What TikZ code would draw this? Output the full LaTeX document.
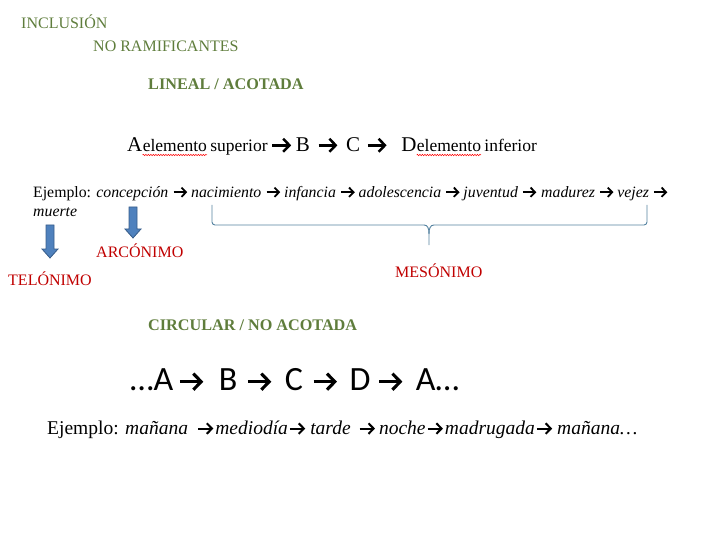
\documentclass[tikz,border=0pt]{standalone}
\usepackage{fontspec}
\setmainfont{Liberation Serif}
\newfontfamily\calibrifont{Carlito}
\usetikzlibrary{positioning,arrows.meta,decorations.pathmorphing}

\definecolor{olivegreen}{RGB}{95,125,60}
\definecolor{termred}{RGB}{192,0,0}
\definecolor{blockblue}{RGB}{79,129,189}
\definecolor{blockedge}{RGB}{56,93,138}
\definecolor{bracegray}{RGB}{84,130,160}

\newcommand{\fs}[1]{\fontsize{#1}{#1}\selectfont}
% thick arrow with open head, sized by the font size given
\newcommand{\ra}[1]{{\fs{#1}\tikz[baseline={(0pt,-0.32em)}]
  \draw[line width=0.12em, -{Straight Barb[length=0.3em, width=0.62em]}] (0pt,0pt) -- (0.9em,0pt);}}

\tikzset{
  heading/.style={anchor=base west, inner sep=0pt, text=olivegreen, font=\fs{16}},
  term/.style={anchor=base west, inner sep=0pt, text=termred, font=\fs{16}},
  example line/.style={anchor=base west, inner sep=0pt, font=\fs{#1}},
  big letter/.style={inner sep=0pt, font=\fs{21}},
  small word/.style={inner sep=0pt, font=\fs{17.5}},
  wide arrow/.style={inner sep=0pt},
  block arrow/.style={draw=blockedge, fill=blockblue, line width=0.8pt},
  pics/block down/.style={code={
    \filldraw[block arrow] (-4,0) -- (4,0) -- (4,#1-9) -- (8,#1-9) -- (0,#1)
      -- (-8,#1-9) -- (-4,#1-9) -- cycle;
  }},
  spell mark/.style={
    draw=red, line width=0.5pt, decorate,
    decoration={snake, amplitude=0.7pt, segment length=2.5pt},
  },
  brace line/.style={draw=bracegray, line width=0.9pt, rounded corners=3pt},
}

\begin{document}
\begin{tikzpicture}[x=1pt, y=-1pt]
  \useasboundingbox (0,0) rectangle (720,540);

  \node [heading] (incl) at (21,29) {INCLUSIÓN};
  \node [heading] (noram) at (93,52) {NO RAMIFICANTES};
  \node [heading, font=\fs{16.2}\bfseries] (lineal) at (148,90) {LINEAL / ACOTADA};

  % linear chain
  \node [big letter, anchor=base west] (a1) at (127,152) {A};
  \node [small word, base right=0pt of a1] (el1) {elemento};
  \node [small word, base right=3pt of el1] (sup) {superior};
  \node [wide arrow, base right=3pt of sup] (r1) {\ra{21}};
  \node [big letter, base right=3pt of r1] (b1) {B};
  \node [wide arrow, base right=7pt of b1] (r2) {\ra{21}};
  \node [big letter, base right=7pt of r2] (c1) {C};
  \node [wide arrow, base right=6pt of c1] (r3) {\ra{21}};
  \node [big letter, base right=13pt of r3] (d1) {D};
  \node [small word, base right=0pt of d1] (el2) {elemento};
  \node [small word, base right=3pt of el2] (inf) {inferior};
  \draw [spell mark] ([yshift=-3pt]el1.base west) -- ([yshift=-3pt]el1.base east);
  \draw [spell mark] ([yshift=-3pt]el2.base west) -- ([yshift=-3pt]el2.base east);

  \node [example line=15.8] (ej1) at (33,197)
    {Ejemplo: \textit{concepción}\hspace{4.5pt}\ra{15}\hspace{3pt}\textit{nacimiento}\hspace{4.5pt}\ra{15}\hspace{3pt}\textit{infancia}\hspace{4.5pt}\ra{15}\hspace{3pt}\textit{adolescencia}\hspace{4pt}\ra{15}\hspace{3pt}\textit{juventud}\hspace{4pt}\ra{15}\hspace{4pt}\textit{madurez}\hspace{4pt}\ra{15}\hspace{3pt}\textit{vejez}\hspace{4pt}\ra{15}};
  \node [example line=15.8] (muerte) at (33,217) {\textit{muerte}};

  \pic at (50,225) {block down=33};
  \pic at (133,207) {block down=31};

  \node [term] (arco) at (96,257) {ARCÓNIMO};
  \node [term] (telo) at (8,285) {TELÓNIMO};
  \node [term] (meso) at (395,277) {MESÓNIMO};

  % brace over the middle terms
  \coordinate (bl) at (212,205);
  \coordinate (br) at (647,205);
  \coordinate (tip) at (429,245);
  \draw [brace line] (bl) -- (212,225) -- (424,225);
  \draw [brace line] (br) -- (647,225) -- (434,225);
  \draw [draw=bracegray, line width=0.9pt]
    (424,225) .. controls (427.5,225) and (429,228) .. (429,234) -- (tip);
  \draw [draw=bracegray, line width=0.9pt]
    (434,225) .. controls (430.5,225) and (429,228) .. (429,234);

  \node [heading, font=\fs{16.2}\bfseries] (circ) at (148,330) {CIRCULAR / NO ACOTADA};
  \node [example line=34, font=\calibrifont\fs{34}] (cycle) at (130,390)
    {…A\hspace{5pt}\ra{26}\hspace{14pt}B\hspace{9pt}\ra{26}\hspace{12pt}C\hspace{9pt}\ra{26}\hspace{11pt}D\hspace{7pt}\ra{26}\hspace{12pt}A…};

  \node [example line=19.5] (ej2) at (47,434)
    {Ejemplo: \textit{mañana}\hspace{9pt}\ra{17}\hspace{1pt}\textit{mediodía}\hspace{1pt}\ra{17}\hspace{4pt}\textit{tarde}\hspace{8pt}\ra{17}\hspace{3pt}\textit{noche}\hspace{1pt}\ra{17}\hspace{1pt}\textit{madrugada}\hspace{1pt}\ra{17}\hspace{4pt}\textit{mañana…}};
\end{tikzpicture}
\end{document}
